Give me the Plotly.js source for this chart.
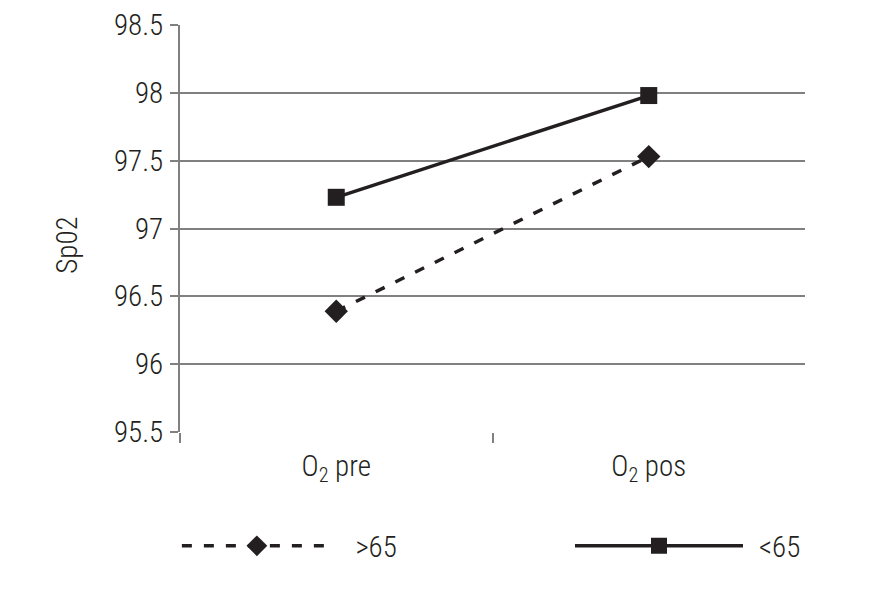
<!DOCTYPE html>
<html>
<head>
<meta charset="utf-8">
<script src="https://cdn.plot.ly/plotly-3.0.1.min.js"></script>
<style>
html,body{margin:0;padding:0;background:#fff;}
#chart{width:891px;height:612px;}
</style>
</head>
<body>
<div id="chart"></div>
<script>
var categories = ["O<sub>2</sub> pre", "O<sub>2</sub> pos"];
var over65 = [96.39, 97.53];
var under65 = [97.23, 97.98];
var seriesNames = ["\u2002\u2009>65", "\u2009\u2009<65"];
var yTicks = [95.5, 96, 96.5, 97, 97.5, 98, 98.5];

var FONT = "Roboto Condensed, Roboto, sans-serif";
var INK = "#231f20";
var GRID = "#808080";
var FS = 29;
var FW = 300;

var traces = [
  {
    x: categories, y: over65, name: seriesNames[0], type: "scatter", mode: "lines+markers",
    line: {color: INK, width: 3.5, dash: "10px,12px"},
    marker: {symbol: "diamond", size: 18, color: INK}, legend: "legend"
  },
  {
    x: categories, y: under65, name: seriesNames[1], type: "scatter", mode: "lines+markers",
    line: {color: INK, width: 3.5},
    marker: {symbol: "square", size: 17, color: INK}, legend: "legend2"
  }
];

var legendCommon = {
  orientation: "h", y: -0.28, yanchor: "middle", xanchor: "left",
  font: {family: FONT, size: FS, color: INK, weight: FW}, bgcolor: "rgba(0,0,0,0)"
};

var layout = {
  width: 891, height: 612,
  margin: {l: 180, r: 86, t: 25, b: 180},
  paper_bgcolor: "#fff", plot_bgcolor: "#fff",
  font: {family: FONT, size: FS, color: INK, weight: FW},
  showlegend: true,
  legend: Object.assign({}, legendCommon, {x: -0.005, itemwidth: 150}),
  legend2: Object.assign({}, legendCommon, {x: 0.624, itemwidth: 168}),
  xaxis: {
    type: "category", range: [-0.5, 1.5], showgrid: false, zeroline: false,
    showline: false, ticks: "", tickfont: {family: FONT, size: FS, color: INK, weight: FW},
    ticklabelstandoff: 14, fixedrange: true
  },
  xaxis2: {
    overlaying: "x", range: [-0.5, 1.5], tickmode: "array", tickvals: [-0.5, 0.5],
    ticks: "outside", ticklen: 10, tickwidth: 2, tickcolor: GRID,
    showticklabels: false, showgrid: false, zeroline: false, showline: false
  },
  yaxis: {
    range: [95.5, 98.5], tickmode: "array", tickvals: yTicks,
    ticktext: yTicks.map(function(v){return String(v);}),
    showgrid: true, gridcolor: GRID, gridwidth: 2,
    showline: true, linecolor: GRID, linewidth: 2,
    ticks: "outside", ticklen: 8, tickwidth: 2, tickcolor: GRID,
    zeroline: false, tickfont: {family: FONT, size: FS, color: INK, weight: FW},
    ticklabelstandoff: 1
  },
  annotations: [{
    text: "Sp02", xref: "paper", yref: "paper", x: -0.181, y: 0.46,
    xanchor: "center", yanchor: "middle", textangle: -90, showarrow: false,
    font: {family: FONT, size: FS, color: INK, weight: FW}
  }]
};

// invisible trace so the boundary-tick axis is drawn
traces.push({x: [-0.5], y: [95.5], xaxis: "x2", yaxis: "y", type: "scatter", mode: "markers",
  marker: {opacity: 0}, showlegend: false, hoverinfo: "skip"});

Plotly.newPlot("chart", traces, layout, {displayModeBar: false, staticPlot: true});
</script>
</body>
</html>
